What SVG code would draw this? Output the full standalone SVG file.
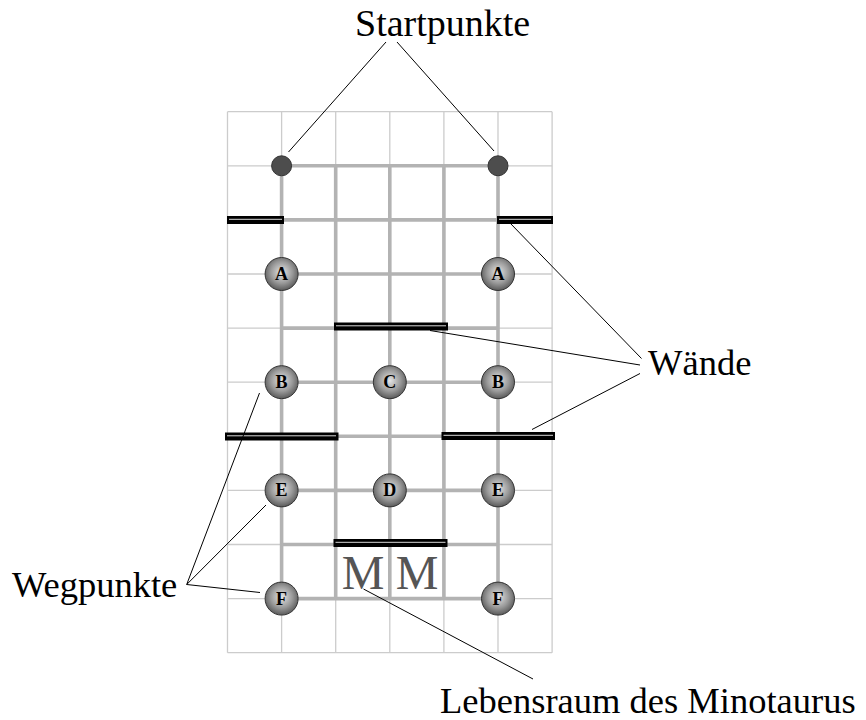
<svg xmlns="http://www.w3.org/2000/svg" width="866" height="720" viewBox="0 0 866 720">
<style>
.thin{stroke:#cccccc;stroke-width:1.3;fill:none}
.thick{stroke:#b3b3b3;stroke-width:3.6;fill:none}
.wall{fill:#000}
.wallin{stroke:#ffffff;stroke-width:1;opacity:0.85}
.wp{fill:url(#g);stroke:#333;stroke-width:1}
.wpt{font-family:"Liberation Serif",serif;font-weight:bold;font-size:18px;fill:#000;text-anchor:middle}
.start{fill:#4d4d4d;stroke:#333;stroke-width:1}
.lbl{font-family:"Liberation Serif","Times New Roman",serif;fill:#000}
.m{font-family:"Liberation Serif",serif;font-size:48px;fill:#555;text-anchor:middle}
.con{stroke:#000;stroke-width:1;fill:none}
</style>
<defs>
<radialGradient id="g" cx="50%" cy="45%" r="55%">
<stop offset="0" stop-color="#e6e6e6"/>
<stop offset="0.6" stop-color="#999"/>
<stop offset="1" stop-color="#5a5a5a"/>
</radialGradient>
</defs>
<rect width="866" height="720" fill="#fff"/>
<g id="grid">
<path class="thin" d="M227.5 111.7V652.7M281.6 111.7V652.7M335.7 111.7V652.7M389.8 111.7V652.7M443.9 111.7V652.7M498 111.7V652.7M552.1 111.7V652.7"/>
<path class="thin" d="M227.5 111.7H552.1M227.5 165.8H552.1M227.5 219.9H552.1M227.5 274H552.1M227.5 328.1H552.1M227.5 382.2H552.1M227.5 436.3H552.1M227.5 490.4H552.1M227.5 544.5H552.1M227.5 598.6H552.1M227.5 652.7H552.1"/>
</g>
<g id="paths">
<path class="thick" d="M281.6 165.8V598.6M335.7 165.8V598.6M389.8 165.8V598.6M443.9 165.8V598.6M498 165.8V598.6"/>
<path class="thick" d="M281.6 165.8H498M281.6 219.9H498M281.6 274H498M281.6 328.1H498M281.6 382.2H498M281.6 436.3H498M281.6 490.4H498M281.6 544.5H498M281.6 598.6H498"/>
</g>
<g id="walls">
<rect class="wall" x="227" y="216" width="57" height="8"/><line class="wallin" x1="229" y1="219.3" x2="282" y2="219.3"/>
<rect class="wall" x="497" y="216" width="56" height="8"/><line class="wallin" x1="499" y1="219.3" x2="551" y2="219.3"/>
<rect class="wall" x="334" y="322.5" width="114" height="8"/><line class="wallin" x1="336" y1="325.8" x2="446" y2="325.8"/>
<rect class="wall" x="225" y="432.5" width="113.5" height="8"/><line class="wallin" x1="227" y1="435.8" x2="336" y2="435.8"/>
<rect class="wall" x="441.5" y="432" width="113.5" height="8"/><line class="wallin" x1="443.5" y1="435.3" x2="553" y2="435.3"/>
<rect class="wall" x="333.5" y="539" width="114" height="8"/><line class="wallin" x1="335.5" y1="542.3" x2="445.5" y2="542.3"/>
</g>
<g id="starts">
<circle class="start" cx="281.6" cy="165.8" r="10"/>
<circle class="start" cx="498" cy="165.8" r="10"/>
</g>
<g id="waypoints">
<g id="wpA1"><circle class="wp" cx="281.6" cy="274" r="16.5"/><text class="wpt" x="281.6" y="280">A</text></g>
<g id="wpA2"><circle class="wp" cx="498" cy="274" r="16.5"/><text class="wpt" x="498" y="280">A</text></g>
<g id="wpB1"><circle class="wp" cx="281.6" cy="382.2" r="16.5"/><text class="wpt" x="281.6" y="388.2">B</text></g>
<g id="wpC"><circle class="wp" cx="389.8" cy="382.2" r="16.5"/><text class="wpt" x="389.8" y="388.2">C</text></g>
<g id="wpB2"><circle class="wp" cx="498" cy="382.2" r="16.5"/><text class="wpt" x="498" y="388.2">B</text></g>
<g id="wpE1"><circle class="wp" cx="281.6" cy="490.4" r="16.5"/><text class="wpt" x="281.6" y="496.4">E</text></g>
<g id="wpD"><circle class="wp" cx="389.8" cy="490.4" r="16.5"/><text class="wpt" x="389.8" y="496.4">D</text></g>
<g id="wpE2"><circle class="wp" cx="498" cy="490.4" r="16.5"/><text class="wpt" x="498" y="496.4">E</text></g>
<g id="wpF1"><circle class="wp" cx="281.6" cy="598.6" r="16.5"/><text class="wpt" x="281.6" y="604.6">F</text></g>
<g id="wpF2"><circle class="wp" cx="498" cy="598.6" r="16.5"/><text class="wpt" x="498" y="604.6">F</text></g>
</g>
<g id="minotaur">
<text class="m" x="363" y="589">M</text>
<text class="m" x="417" y="589">M</text>
</g>
<g id="connectors">
<line class="con" x1="386" y1="42" x2="288.5" y2="152"/>
<line class="con" x1="397" y1="42" x2="494" y2="151"/>
<line class="con" x1="510" y1="223" x2="641.5" y2="358.5"/>
<line class="con" x1="430" y1="330.5" x2="640" y2="365"/>
<line class="con" x1="532" y1="429.5" x2="640" y2="373.5"/>
<line class="con" x1="186.7" y1="584.5" x2="259.5" y2="393"/>
<line class="con" x1="186.7" y1="584.5" x2="266" y2="505"/>
<line class="con" x1="186.7" y1="584.5" x2="260" y2="592.5"/>
<line class="con" x1="363.5" y1="589" x2="533" y2="679"/>
</g>
<g id="labels">
<text class="lbl" x="355" y="36" font-size="38">Startpunkte</text>
<text class="lbl" x="648" y="375" font-size="36.5">Wände</text>
<text class="lbl" x="12" y="597" font-size="36.5">Wegpunkte</text>
<text class="lbl" x="440" y="713" font-size="36.5">Lebensraum des Minotaurus</text>
</g>
</svg>
